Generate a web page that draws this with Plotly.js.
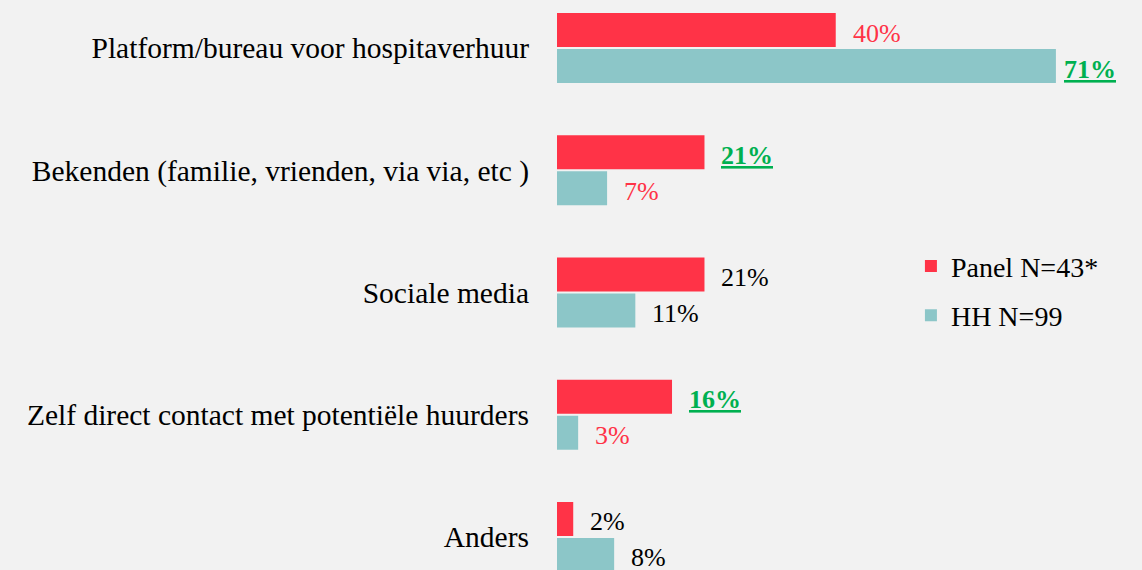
<!DOCTYPE html>
<html>
<head>
<meta charset="utf-8">
<script src="https://cdn.plot.ly/plotly-3.0.1.min.js"></script>
<style>html,body{margin:0;padding:0;background:#f2f2f2;}</style>
</head>
<body>
<div id="chart" style="width:1142px;height:570px;"></div>
<script>
// ---- data ----
var categories = [
  "Platform/bureau voor hospitaverhuur",
  "Bekenden (familie, vrienden, via via, etc )",
  "Sociale media",
  "Zelf direct contact met potentiële huurders",
  "Anders"
];
var seriesNames = ["Panel N=43*", "HH N=99"];
var panelValues = [39.5, 20.9, 20.9, 16.3, 2.3];
var hhValues    = [70.7, 7.1, 11.1, 3.0, 8.1];
var panelLabels = ["40%", "21%", "21%", "16%", "2%"];
var hhLabels    = ["71%", "7%", "11%", "3%", "8%"];
// label highlight kind: "hi" = significantly higher, "lo" = lower, "" = neutral
var panelMarks  = ["lo", "hi", "", "hi", ""];
var hhMarks     = ["hi", "lo", "", "lo", ""];

// ---- styles ----
var RED = "#ff3347", TEAL = "#8cc6c8", GREEN = "#00b050";
var FONT = "Liberation Serif, Times New Roman, serif";
function labelFont(mark) {
  if (mark === "hi") return {family: FONT, size: 26, color: GREEN, weight: "bold", lineposition: "under"};
  if (mark === "lo") return {family: FONT, size: 26, color: RED};
  return {family: FONT, size: 26, color: "#000000"};
}

var traces = [
  {type: "bar", orientation: "h", name: seriesNames[0], y: categories, x: panelValues,
   marker: {color: RED}, legendgroup: "a", hoverinfo: "none"},
  {type: "bar", orientation: "h", name: seriesNames[1], y: categories, x: hhValues,
   marker: {color: TEAL}, legendgroup: "b", hoverinfo: "none"}
];

var annotations = [];
var maxVal = Math.max.apply(null, hhValues.concat(panelValues));
function addLabels(vals, labels, marks, dy) {
  for (var i = 0; i < categories.length; i++) {
    var f = labelFont(marks[i]);
    annotations.push({
      x: vals[i], y: categories[i], xref: "x", yref: "y",
      text: marks[i] === "hi" ? "<b>" + labels[i] + "</b>" : labels[i],
      showarrow: false, xanchor: "left", yanchor: "middle",
      xshift: vals[i] === maxVal ? 6 : 15, yshift: dy,
      font: f
    });
  }
}
addLabels(panelValues, panelLabels, panelMarks, 15);
addLabels(hhValues, hhLabels, hhMarks, -21);

var layout = {
  width: 1142, height: 570,
  paper_bgcolor: "#f2f2f2", plot_bgcolor: "#f2f2f2",
  margin: {l: 557, r: 0, t: 0, b: 0, pad: 0},
  barmode: "group", bargap: 0.411, bargroupgap: 0.056,
  font: {family: FONT, color: "#000000"},
  xaxis: {range: [0, 82.9], visible: false, fixedrange: true},
  yaxis: {
    type: "category", categoryarray: categories, categoryorder: "array",
    range: [4.27, -0.3926], showgrid: false, zeroline: false, showline: false,
    ticks: "", ticklabelstandoff: 27,
    tickfont: {family: FONT, size: 29.5, color: "#000000"}, fixedrange: true
  },
  showlegend: true,
  legend: {
    x: 0.605, xanchor: "left", y: 0.49, yanchor: "middle",
    bgcolor: "rgba(0,0,0,0)", borderwidth: 0,
    font: {family: FONT, size: 28, color: "#000000"},
    traceorder: "grouped", tracegroupgap: 10
  },
  annotations: annotations
};

Plotly.newPlot("chart", traces, layout, {displayModeBar: false, staticPlot: true});
</script>
</body>
</html>
